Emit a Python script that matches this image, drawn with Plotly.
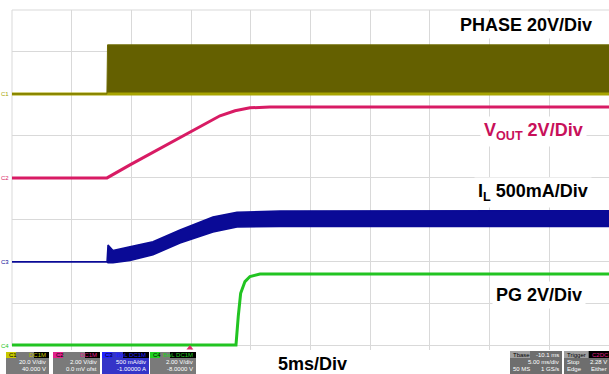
"""Scope capture: soft-start of a buck converter (PHASE, VOUT, IL, PG)."""

import plotly.graph_objects as go

FONT = "Liberation Sans, Arial, sans-serif"

# ---------------------------------------------------------------------------
# Data: time in ms (5 ms/div), amplitude in screen divisions
# ---------------------------------------------------------------------------

t_phase = [0.0, 7.95, 8.0, 50.0]
phase_lo = [6.0, 6.0, 6.0, 6.0]
phase_hi = [6.0, 6.0, 7.17, 7.17]

t_vout = [0.0, 7.96, 9.88, 11.56, 14.9, 16.16, 17.42, 18.68, 19.93, 21.6, 50.0]
vout = [4.0, 4.0, 4.31, 4.57, 5.10, 5.29, 5.48, 5.60, 5.67, 5.69, 5.69]

t_il = [0.0, 7.96, 8.04, 8.46, 9.88, 11.81, 14.07, 16.83, 18.84, 20.77, 22.45, 50.0]
il_hi = [2.0, 2.0, 2.40, 2.27, 2.36, 2.48, 2.76, 3.07, 3.18, 3.20, 3.21, 3.22]
il_lo = [2.0, 2.0, 1.98, 1.98, 2.03, 2.17, 2.45, 2.71, 2.83, 2.84, 2.84, 2.84]

t_pg = [0.0, 18.76, 18.95, 19.15, 19.51, 19.93, 20.77, 22.7, 50.0]
pg = [0.02, 0.02, 0.70, 1.25, 1.53, 1.65, 1.71, 1.71, 1.71]

trigger_t = 14.9

channels = ["C1", "C2", "C3", "C4"]
channel_offsets = [6.0, 4.0, 2.0, 0.0]
channel_colors = ["#a8a400", "#d81b64", "#0a0a96", "#22c422"]

# ---------------------------------------------------------------------------
# Geometry helpers (pixels -> paper) for the status bar decorations
# ---------------------------------------------------------------------------

L, T, W, H = 12, 10, 597, 340


def px(x):
    return (x - L) / W


def py(y):
    return (T + H - y) / H


fig = go.Figure()

# PHASE: switching node, drawn as a filled band
fig.add_trace(go.Scatter(x=t_phase, y=phase_lo, mode="lines",
                         line=dict(color="#a8a400", width=3), hoverinfo="skip"))
fig.add_trace(go.Scatter(x=t_phase, y=phase_hi, mode="lines", fill="tonexty",
                         fillcolor="#646000", line=dict(color="#6e6a00", width=1),
                         hoverinfo="skip"))

# VOUT
fig.add_trace(go.Scatter(x=t_vout, y=vout, mode="lines",
                         line=dict(color="#d81b64", width=3), hoverinfo="skip"))

# IL: ripple envelope
fig.add_trace(go.Scatter(x=t_il, y=il_lo, mode="lines",
                         line=dict(color="#0a0a96", width=1.5), hoverinfo="skip"))
fig.add_trace(go.Scatter(x=t_il, y=il_hi, mode="lines", fill="tonexty",
                         fillcolor="#0a0a96", line=dict(color="#0a0a96", width=1.5),
                         hoverinfo="skip"))

# PG
fig.add_trace(go.Scatter(x=t_pg, y=pg, mode="lines",
                         line=dict(color="#22c422", width=3), hoverinfo="skip"))

# trigger marker
fig.add_trace(go.Scatter(x=[trigger_t], y=[-0.05], mode="markers", cliponaxis=False,
                         marker=dict(symbol="triangle-up", size=6, color="#e0306a"),
                         hoverinfo="skip"))

grid = "#d9d9d9"
fig.update_layout(
    width=609,
    height=374,
    margin=dict(l=L, r=0, t=T, b=374 - T - H),
    paper_bgcolor="white",
    plot_bgcolor="white",
    showlegend=False,
    font=dict(family=FONT),
    xaxis=dict(range=[0, 50], dtick=5, showgrid=True, gridcolor=grid,
               showticklabels=False, ticks="", zeroline=False, fixedrange=True),
    yaxis=dict(range=[-0.1, 8], dtick=1, showgrid=True, gridcolor=grid,
               showticklabels=False, ticks="", zeroline=False, fixedrange=True),
)

# frame (left and top edges of the graticule)
fig.add_shape(type="line", xref="paper", yref="paper", x0=0, x1=0, y0=py(346), y1=1,
              line=dict(color=grid, width=1), layer="below")
fig.add_shape(type="line", xref="paper", yref="paper", x0=0, x1=1, y0=1, y1=1,
              line=dict(color=grid, width=1), layer="below")

# channel ground markers on the left
for name, off, col in zip(channels, channel_offsets, channel_colors):
    fig.add_annotation(x=0, y=off, xref="x", yref="y", text=name, showarrow=False,
                       xanchor="right", xshift=-1, font=dict(size=6, color=col))

# trace labels
labels = [
    ("<b>PHASE 20V/Div</b>", 48.6, 7.64, "black"),
    ("<b>V<sub>OUT</sub> 2V/Div</b>", 47.8, 5.10, "#c8105a"),
    ("<b>I<sub>L</sub> 500mA/Div</b>", 48.2, 3.66, "black"),
    ("<b>PG 2V/Div</b>", 47.7, 1.21, "black"),
]
for text, x, y, col in labels:
    fig.add_annotation(x=x, y=y, xref="x", yref="y", text=text, showarrow=False,
                       xanchor="right", yanchor="middle", xshift=4,
                       bgcolor="white", borderpad=3,
                       font=dict(size=18, color=col, family=FONT))

fig.add_annotation(x=px(312), y=py(364), xref="paper", yref="paper",
                   text="<b>5ms/Div</b>", showarrow=False, xanchor="center",
                   yanchor="middle", font=dict(size=18, color="black", family=FONT))

# ---------------------------------------------------------------------------
# Status bar (channel boxes and timebase/trigger boxes)
# ---------------------------------------------------------------------------


def box(x0, x1, y0, y1, fill):
    fig.add_shape(type="rect", xref="paper", yref="paper", x0=px(x0), x1=px(x1),
                  y0=py(y1), y1=py(y0), fillcolor=fill, line=dict(width=0))


def txt(x, y, s, col="white", anchor="right", size=6):
    fig.add_annotation(x=px(x), y=py(y), xref="paper", yref="paper", text=s,
                       showarrow=False, xanchor=anchor, yanchor="middle",
                       font=dict(size=size, color=col, family=FONT))


ch_boxes = [
    (6, 49, "#7a7a7a", "#c8c800", "DC1M", "20.0 V/div", "40.000 V"),
    (53, 100, "#7a7a7a", "#e0208c", "DC1M", "2.00 V/div", "0.0 mV ofst"),
    (102, 149, "#3434c8", "#2020ff", "BwL DC1M", "500 mA/div", "-1.00000 A"),
    (150, 196, "#7a7a7a", "#20d020", "BwL DC1M", "2.00 V/div", "-8.0000 V"),
]
for name, (x0, x1, bg, tag, cpl, vdiv, ofs) in zip(channels, ch_boxes):
    box(x0, x1, 352, 374, bg)
    box(x0, x0 + 10, 352, 358, tag)
    txt(x0 + 1, 355, name, col="black", anchor="left")
    cw = 15 if cpl == "DC1M" else 26
    box(x1 - cw, x1, 352, 358, "black")
    txt(x1 - 1, 355, cpl, col=tag)
    txt(x1 - 1, 362, vdiv)
    txt(x1 - 1, 369, ofs)

box(510, 562, 351, 374, "#6e6e6e")
box(510, 530, 351, 358, "#a0a0a0")
txt(511, 355, "Tbase", col="black", anchor="left")
txt(561, 355, "-10.1 ms")
txt(561, 362, "5.00 ms/div")
txt(511, 369, "50 MS", anchor="left")
txt(561, 369, "1 GS/s")

box(564, 609, 351, 374, "#6e6e6e")
box(564, 588, 351, 358, "#a0a0a0")
box(589, 609, 351, 358, "black")
txt(565, 355, "Trigger", col="black", anchor="left")
txt(590, 355, "C2DC", col="#e0208c", anchor="left")
txt(565, 362, "Stop", anchor="left")
txt(609, 362, "2.28 V")
txt(565, 369, "Edge", anchor="left")
txt(609, 369, "Either")

# the page body has a default margin; drop it so the figure sits at the origin
fig.write_html("out.html", config={"displayModeBar": False},
               post_script="document.body.style.margin='0';")
